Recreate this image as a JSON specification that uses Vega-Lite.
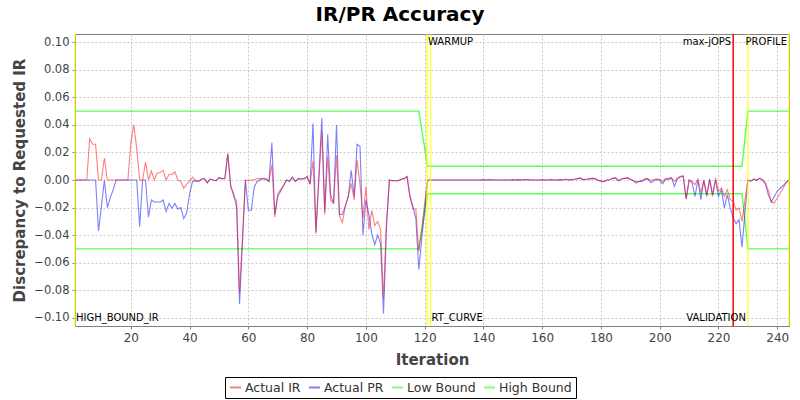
{
  "$schema": "https://vega.github.io/schema/vega-lite/v6.json",
  "width": 714,
  "height": 292,
  "autosize": "none",
  "padding": {"left": 75, "top": 34, "right": 11, "bottom": 74},
  "background": "white",
  "title": {"text": "IR/PR Accuracy", "fontSize": 20, "font": "DejaVu Sans", "fontWeight": "bold", "color": "black", "anchor": "middle", "dx": -32, "offset": 8},
  "config": {
    "view": {"stroke": "#808080", "strokeWidth": 1},
    "axis": {"labelFont": "DejaVu Sans", "labelFontSize": 12, "labelColor": "#444444", "titleFont": "DejaVu Sans", "titleFontSize": 15, "titleFontWeight": "bold", "titleColor": "#444444", "gridColor": "#c8c8c8", "gridDash": [2, 2], "gridWidth": 1, "domain": false, "tickColor": "#808080", "tickSize": 3, "labelOverlap": false}
  },
  "datasets": {
    "acc": [
      {"i":1,"Actual IR":0,"Actual PR":0},{"i":2,"Actual IR":0,"Actual PR":0},{"i":3,"Actual IR":0,"Actual PR":0},{"i":4,"Actual IR":0,"Actual PR":0},{"i":5,"Actual IR":0,"Actual PR":0},
      {"i":6,"Actual IR":0.030,"Actual PR":0},{"i":7,"Actual IR":0.026,"Actual PR":0},{"i":8,"Actual IR":0.026,"Actual PR":0},{"i":9,"Actual IR":0,"Actual PR":-0.037},{"i":10,"Actual IR":0,"Actual PR":-0.019},
      {"i":11,"Actual IR":0.016,"Actual PR":0},{"i":12,"Actual IR":0,"Actual PR":-0.020},{"i":13,"Actual IR":0,"Actual PR":-0.013},{"i":14,"Actual IR":0,"Actual PR":-0.007},{"i":15,"Actual IR":0,"Actual PR":0},
      {"i":16,"Actual IR":0,"Actual PR":0},{"i":17,"Actual IR":0,"Actual PR":0},{"i":18,"Actual IR":0,"Actual PR":0},{"i":19,"Actual IR":0,"Actual PR":0},{"i":20,"Actual IR":0.027,"Actual PR":0},
      {"i":21,"Actual IR":0.040,"Actual PR":0},{"i":22,"Actual IR":0.023,"Actual PR":0},{"i":23,"Actual IR":0,"Actual PR":-0.034},{"i":24,"Actual IR":0,"Actual PR":0},{"i":25,"Actual IR":0.013,"Actual PR":0},
      {"i":26,"Actual IR":0,"Actual PR":-0.027},{"i":27,"Actual IR":0.0065,"Actual PR":-0.0145},{"i":28,"Actual IR":0,"Actual PR":-0.016},{"i":29,"Actual IR":0.005,"Actual PR":-0.016},{"i":30,"Actual IR":0.0055,"Actual PR":-0.016},
      {"i":31,"Actual IR":0.007,"Actual PR":-0.0145},{"i":32,"Actual IR":0,"Actual PR":-0.023},{"i":33,"Actual IR":0.004,"Actual PR":-0.017},{"i":34,"Actual IR":0.004,"Actual PR":-0.0205},{"i":35,"Actual IR":0.006,"Actual PR":-0.017},
      {"i":36,"Actual IR":0,"Actual PR":-0.021},{"i":37,"Actual IR":-0.001,"Actual PR":-0.020},{"i":38,"Actual IR":-0.006,"Actual PR":-0.028},{"i":39,"Actual IR":-0.003,"Actual PR":-0.024},{"i":40,"Actual IR":-0.001,"Actual PR":-0.010},
      {"i":41,"Actual IR":0.002,"Actual PR":-0.001},{"i":42,"Actual IR":-0.0005,"Actual PR":-0.0005},{"i":43,"Actual IR":-0.001,"Actual PR":-0.001},{"i":44,"Actual IR":0.0005,"Actual PR":0.0005},{"i":45,"Actual IR":0.0012,"Actual PR":0.0012},
      {"i":46,"Actual IR":-0.002,"Actual PR":-0.002},{"i":47,"Actual IR":0.0007,"Actual PR":0.0007},{"i":48,"Actual IR":0,"Actual PR":0},{"i":49,"Actual IR":-0.0005,"Actual PR":-0.0005},{"i":50,"Actual IR":0.0017,"Actual PR":0.0017},
      {"i":51,"Actual IR":0.001,"Actual PR":0.001},{"i":52,"Actual IR":0.001,"Actual PR":0.0012},{"i":53,"Actual IR":0.019,"Actual PR":0.019},{"i":54,"Actual IR":-0.004,"Actual PR":-0.005},{"i":55,"Actual IR":-0.012,"Actual PR":-0.010},
      {"i":56,"Actual IR":-0.015,"Actual PR":-0.020},{"i":57,"Actual IR":-0.082,"Actual PR":-0.090},{"i":58,"Actual IR":-0.041,"Actual PR":-0.045},{"i":59,"Actual IR":0,"Actual PR":0},{"i":60,"Actual IR":-0.0005,"Actual PR":-0.022},
      {"i":61,"Actual IR":0,"Actual PR":-0.022},{"i":62,"Actual IR":0,"Actual PR":-0.005},{"i":63,"Actual IR":0.001,"Actual PR":-0.001},{"i":64,"Actual IR":0.001,"Actual PR":0},{"i":65,"Actual IR":0.001,"Actual PR":0.001},
      {"i":66,"Actual IR":0.001,"Actual PR":0.0005},{"i":67,"Actual IR":-0.001,"Actual PR":-0.001},{"i":68,"Actual IR":0.011,"Actual PR":0.027},{"i":69,"Actual IR":-0.027,"Actual PR":-0.025},{"i":70,"Actual IR":-0.010,"Actual PR":-0.012},
      {"i":71,"Actual IR":-0.007,"Actual PR":-0.008},{"i":72,"Actual IR":-0.004,"Actual PR":-0.004},{"i":73,"Actual IR":0,"Actual PR":0},{"i":74,"Actual IR":-0.001,"Actual PR":-0.001},{"i":75,"Actual IR":0.002,"Actual PR":0.002},
      {"i":76,"Actual IR":-0.001,"Actual PR":-0.001},{"i":77,"Actual IR":0.001,"Actual PR":0.001},{"i":78,"Actual IR":0.0007,"Actual PR":0.0007},{"i":79,"Actual IR":0.001,"Actual PR":0.001},{"i":80,"Actual IR":0.0025,"Actual PR":0.0025},
      {"i":81,"Actual IR":-0.003,"Actual PR":-0.003},{"i":82,"Actual IR":0.014,"Actual PR":0.041},{"i":83,"Actual IR":-0.039,"Actual PR":-0.038},{"i":84,"Actual IR":0,"Actual PR":0.003},{"i":85,"Actual IR":0.035,"Actual PR":0.045},
      {"i":86,"Actual IR":-0.025,"Actual PR":-0.023},{"i":87,"Actual IR":0.017,"Actual PR":0.033},{"i":88,"Actual IR":-0.0145,"Actual PR":-0.011},{"i":89,"Actual IR":-0.017,"Actual PR":-0.017},{"i":90,"Actual IR":0.018,"Actual PR":0.040},
      {"i":91,"Actual IR":-0.026,"Actual PR":-0.025},{"i":92,"Actual IR":-0.031,"Actual PR":-0.025},{"i":93,"Actual IR":-0.019,"Actual PR":-0.019},{"i":94,"Actual IR":-0.012,"Actual PR":-0.012},{"i":95,"Actual IR":-0.0025,"Actual PR":0.007},
      {"i":96,"Actual IR":-0.0145,"Actual PR":-0.012},{"i":97,"Actual IR":0.0145,"Actual PR":0.026},{"i":98,"Actual IR":-0.003,"Actual PR":0.0245},{"i":99,"Actual IR":-0.028,"Actual PR":-0.040},{"i":100,"Actual IR":-0.005,"Actual PR":-0.0145},
      {"i":101,"Actual IR":-0.036,"Actual PR":-0.025},{"i":102,"Actual IR":-0.022,"Actual PR":-0.039},{"i":103,"Actual IR":-0.033,"Actual PR":-0.047},{"i":104,"Actual IR":-0.030,"Actual PR":-0.040},{"i":105,"Actual IR":-0.036,"Actual PR":-0.046},
      {"i":106,"Actual IR":-0.086,"Actual PR":-0.097},{"i":107,"Actual IR":-0.030,"Actual PR":-0.035},{"i":108,"Actual IR":0,"Actual PR":0},{"i":109,"Actual IR":-0.0005,"Actual PR":-0.0005},{"i":110,"Actual IR":-0.0005,"Actual PR":-0.0005},
      {"i":111,"Actual IR":-0.0005,"Actual PR":-0.0005},{"i":112,"Actual IR":0.0005,"Actual PR":0.0005},{"i":113,"Actual IR":0.001,"Actual PR":0.001},{"i":114,"Actual IR":0.0025,"Actual PR":0.0025},{"i":115,"Actual IR":-0.012,"Actual PR":-0.012},
      {"i":116,"Actual IR":-0.021,"Actual PR":-0.019},{"i":117,"Actual IR":-0.021,"Actual PR":-0.028},{"i":118,"Actual IR":-0.052,"Actual PR":-0.065},{"i":119,"Actual IR":-0.035,"Actual PR":-0.043},{"i":120,"Actual IR":-0.017,"Actual PR":-0.022},
      {"i":121,"Actual IR":0,"Actual PR":0},{"i":122,"Actual IR":0,"Actual PR":0},{"i":123,"Actual IR":0,"Actual PR":0},{"i":124,"Actual IR":0,"Actual PR":0},{"i":125,"Actual IR":0,"Actual PR":0},
      {"i":126,"Actual IR":0,"Actual PR":0},{"i":127,"Actual IR":0,"Actual PR":0},{"i":128,"Actual IR":0,"Actual PR":0},{"i":129,"Actual IR":0,"Actual PR":0},{"i":130,"Actual IR":0,"Actual PR":0},
      {"i":131,"Actual IR":0,"Actual PR":0},{"i":132,"Actual IR":0,"Actual PR":0},{"i":133,"Actual IR":0,"Actual PR":0},{"i":134,"Actual IR":0,"Actual PR":0},{"i":135,"Actual IR":0,"Actual PR":0},
      {"i":136,"Actual IR":0,"Actual PR":0},{"i":137,"Actual IR":0,"Actual PR":0},{"i":138,"Actual IR":0,"Actual PR":0},{"i":139,"Actual IR":0,"Actual PR":0},{"i":140,"Actual IR":0,"Actual PR":0.0003},
      {"i":141,"Actual IR":0,"Actual PR":0},{"i":142,"Actual IR":0,"Actual PR":0.0003},{"i":143,"Actual IR":0,"Actual PR":0.0003},{"i":144,"Actual IR":0,"Actual PR":0},{"i":145,"Actual IR":0,"Actual PR":0},
      {"i":146,"Actual IR":0,"Actual PR":0},{"i":147,"Actual IR":0,"Actual PR":0},{"i":148,"Actual IR":0,"Actual PR":0},{"i":149,"Actual IR":0,"Actual PR":0},{"i":150,"Actual IR":0.0002,"Actual PR":0.0003},
      {"i":151,"Actual IR":0,"Actual PR":0},{"i":152,"Actual IR":0.0003,"Actual PR":0.0003},{"i":153,"Actual IR":0,"Actual PR":0},{"i":154,"Actual IR":0.0002,"Actual PR":0.0003},{"i":155,"Actual IR":0.0003,"Actual PR":0.0003},
      {"i":156,"Actual IR":0,"Actual PR":0},{"i":157,"Actual IR":0,"Actual PR":0},{"i":158,"Actual IR":0,"Actual PR":0},{"i":159,"Actual IR":0,"Actual PR":0},{"i":160,"Actual IR":0.0002,"Actual PR":0.0002},
      {"i":161,"Actual IR":0,"Actual PR":0},{"i":162,"Actual IR":0,"Actual PR":0},{"i":163,"Actual IR":0.0004,"Actual PR":0.0003},{"i":164,"Actual IR":0,"Actual PR":0},{"i":165,"Actual IR":0,"Actual PR":0},
      {"i":166,"Actual IR":0.0003,"Actual PR":0.0003},{"i":167,"Actual IR":0,"Actual PR":0},{"i":168,"Actual IR":0.0005,"Actual PR":0.0005},{"i":169,"Actual IR":0,"Actual PR":0},{"i":170,"Actual IR":0.0003,"Actual PR":0.0003},
      {"i":171,"Actual IR":0.0005,"Actual PR":0.0005},{"i":172,"Actual IR":0.001,"Actual PR":0.001},{"i":173,"Actual IR":0.0015,"Actual PR":0.0012},{"i":174,"Actual IR":0.0003,"Actual PR":0.0003},{"i":175,"Actual IR":0.0005,"Actual PR":0.0005},
      {"i":176,"Actual IR":0.0008,"Actual PR":0.0008},{"i":177,"Actual IR":0.0012,"Actual PR":0.0012},{"i":178,"Actual IR":0.001,"Actual PR":0.001},{"i":179,"Actual IR":-0.0002,"Actual PR":-0.0002},{"i":180,"Actual IR":-0.0008,"Actual PR":-0.0008},
      {"i":181,"Actual IR":-0.0012,"Actual PR":-0.0012},{"i":182,"Actual IR":0,"Actual PR":0},{"i":183,"Actual IR":0.0002,"Actual PR":0.0002},{"i":184,"Actual IR":0.0012,"Actual PR":0.0012},{"i":185,"Actual IR":0.0015,"Actual PR":0.0015},
      {"i":186,"Actual IR":-0.0005,"Actual PR":-0.0005},{"i":187,"Actual IR":0.0008,"Actual PR":0.0008},{"i":188,"Actual IR":0.0012,"Actual PR":0.0012},{"i":189,"Actual IR":0.0015,"Actual PR":0.0015},{"i":190,"Actual IR":0.0005,"Actual PR":0.0005},
      {"i":191,"Actual IR":-0.0005,"Actual PR":-0.0005},{"i":192,"Actual IR":-0.0022,"Actual PR":-0.0015},{"i":193,"Actual IR":-0.001,"Actual PR":-0.001},{"i":194,"Actual IR":-0.0002,"Actual PR":-0.001},{"i":195,"Actual IR":0.0005,"Actual PR":0.0008},
      {"i":196,"Actual IR":0.0003,"Actual PR":0.001},{"i":197,"Actual IR":-0.0002,"Actual PR":-0.002},{"i":198,"Actual IR":0.0003,"Actual PR":-0.0005},{"i":199,"Actual IR":0.0008,"Actual PR":0.0003},{"i":200,"Actual IR":0.0003,"Actual PR":-0.0002},
      {"i":201,"Actual IR":-0.001,"Actual PR":-0.0027},{"i":202,"Actual IR":0.0008,"Actual PR":0.0008},{"i":203,"Actual IR":0.0003,"Actual PR":0.0012},{"i":204,"Actual IR":0.0015,"Actual PR":0.0017},{"i":205,"Actual IR":-0.001,"Actual PR":-0.0046},
      {"i":206,"Actual IR":0.0015,"Actual PR":0.0008},{"i":207,"Actual IR":0.0027,"Actual PR":0.0022},{"i":208,"Actual IR":0.003,"Actual PR":0.0027},{"i":209,"Actual IR":-0.0138,"Actual PR":-0.0138},{"i":210,"Actual IR":0,"Actual PR":0},
      {"i":211,"Actual IR":-0.001,"Actual PR":-0.002},{"i":212,"Actual IR":-0.0034,"Actual PR":-0.012},{"i":213,"Actual IR":0.0008,"Actual PR":0.0002},{"i":214,"Actual IR":-0.0094,"Actual PR":-0.0143},{"i":215,"Actual IR":0,"Actual PR":-0.0003},
      {"i":216,"Actual IR":-0.0106,"Actual PR":-0.0119},{"i":217,"Actual IR":0,"Actual PR":0.0008},{"i":218,"Actual IR":-0.0119,"Actual PR":-0.0106},{"i":219,"Actual IR":0.0015,"Actual PR":0},{"i":220,"Actual IR":-0.0082,"Actual PR":-0.0119},
      {"i":221,"Actual IR":-0.0058,"Actual PR":-0.007},{"i":222,"Actual IR":-0.0119,"Actual PR":-0.0203},{"i":223,"Actual IR":-0.007,"Actual PR":-0.0106},{"i":224,"Actual IR":-0.0143,"Actual PR":-0.0203},{"i":225,"Actual IR":-0.0155,"Actual PR":-0.0276},
      {"i":226,"Actual IR":-0.0218,"Actual PR":-0.0317},{"i":227,"Actual IR":-0.0203,"Actual PR":-0.0288},{"i":228,"Actual IR":-0.030,"Actual PR":-0.0487},{"i":229,"Actual IR":-0.015,"Actual PR":-0.024},{"i":230,"Actual IR":0,"Actual PR":0},
      {"i":231,"Actual IR":-0.0005,"Actual PR":-0.001},{"i":232,"Actual IR":0.0007,"Actual PR":0.0007},{"i":233,"Actual IR":-0.0002,"Actual PR":-0.0002},{"i":234,"Actual IR":0.0014,"Actual PR":0.0012},{"i":235,"Actual IR":0.0002,"Actual PR":-0.0002},
      {"i":236,"Actual IR":-0.002,"Actual PR":-0.003},{"i":237,"Actual IR":-0.008,"Actual PR":-0.011},{"i":238,"Actual IR":-0.016,"Actual PR":-0.016},{"i":239,"Actual IR":-0.0167,"Actual PR":-0.012},{"i":240,"Actual IR":-0.013,"Actual PR":-0.008},
      {"i":241,"Actual IR":-0.0094,"Actual PR":-0.006},{"i":242,"Actual IR":-0.006,"Actual PR":-0.004},{"i":243,"Actual IR":-0.002,"Actual PR":-0.0017},{"i":244,"Actual IR":0,"Actual PR":0}
    ],
    "bounds": [
      {"i":1,"Low Bound":-0.05,"High Bound":0.05},
      {"i":118,"Low Bound":-0.05,"High Bound":0.05},
      {"i":121,"Low Bound":-0.01,"High Bound":0.01},
      {"i":228,"Low Bound":-0.01,"High Bound":0.01},
      {"i":230,"Low Bound":-0.05,"High Bound":0.05},
      {"i":244,"Low Bound":-0.05,"High Bound":0.05}
    ],
    "markers": [
      {"i":1,"name":"HIGH_BOUND_IR","kind":"phase","pos":"bottom","side":"left"},
      {"i":120.8,"name":"WARMUP","kind":"phase","pos":"top","side":"left"},
      {"i":122,"name":"RT_CURVE","kind":"phase","pos":"bottom","side":"left"},
      {"i":225,"name":"max-jOPS","kind":"max","pos":"top","side":"right"},
      {"i":230,"name":"VALIDATION","kind":"phase","pos":"bottom","side":"right"},
      {"i":244,"name":"PROFILE","kind":"phase","pos":"top","side":"right"}
    ]
  },
  "encoding": {
    "x": {"field": "i", "type": "quantitative", "title": "Iteration",
      "scale": {"domain": [1, 244], "nice": false, "zero": false},
      "axis": {"values": [20,40,60,80,100,120,140,160,180,200,220,240], "titlePadding": 9, "labelPadding": 3, "labelOverlap": false}}
  },
  "layer": [
    {
      "data": {"name": "bounds"},
      "transform": [{"fold": ["Low Bound", "High Bound"], "as": ["series", "value"]}],
      "mark": {"type": "line", "strokeWidth": 1.4, "opacity": 0.65, "clip": true},
      "encoding": {
        "y": {"field": "value", "type": "quantitative", "title": "Discrepancy to Requested IR",
          "scale": {"domain": [-0.106, 0.106], "nice": false, "zero": false},
          "axis": {"tickCount": 11, "format": ".2f", "titlePadding": 6, "labelPadding": 3, "labelOverlap": false, "labelFontSize": 11.5}},
        "color": {"field": "series", "type": "nominal",
          "scale": {"domain": ["Actual IR", "Actual PR", "Low Bound", "High Bound"], "range": ["#ff0000", "#0000ff", "#00ff00", "#00ff00"]},
          "legend": {"title": null, "orient": "none", "legendX": 150, "legendY": 343, "direction": "horizontal", "strokeColor": "black", "fillColor": "white", "padding": 4, "symbolType": "stroke", "symbolStrokeWidth": 2, "symbolSize": 120, "symbolOpacity": 0.5, "labelFont": "DejaVu Sans", "labelFontSize": 12.5, "labelColor": "#333333", "columnPadding": 4, "symbolOffset": 0, "labelOffset": 3}},
        "detail": {"field": "series"}
      }
    },
    {
      "data": {"name": "acc"},
      "transform": [{"fold": ["Actual PR"], "as": ["series", "value"]}],
      "mark": {"type": "line", "strokeWidth": 1.1, "opacity": 0.5, "clip": true},
      "encoding": {
        "y": {"field": "value", "type": "quantitative"},
        "color": {"field": "series", "type": "nominal"}
      }
    },
    {
      "data": {"name": "acc"},
      "transform": [{"fold": ["Actual IR"], "as": ["series", "value"]}],
      "mark": {"type": "line", "strokeWidth": 1.1, "opacity": 0.5, "clip": true},
      "encoding": {
        "y": {"field": "value", "type": "quantitative"},
        "color": {"field": "series", "type": "nominal"}
      }
    },
    {
      "data": {"name": "markers"},
      "transform": [{"filter": "datum.kind === 'phase'"}],
      "mark": {"type": "rule", "color": "#ffff00", "opacity": 0.55, "strokeWidth": 2},
      "encoding": {}
    },
    {
      "data": {"name": "markers"},
      "transform": [{"filter": "datum.kind === 'max'"}],
      "mark": {"type": "rule", "color": "#ff0000", "strokeWidth": 1.5},
      "encoding": {}
    },
    {
      "data": {"name": "markers"},
      "transform": [{"filter": "datum.pos === 'top' && datum.side === 'left'"}],
      "mark": {"type": "text", "align": "left", "baseline": "top", "dx": 1, "dy": 3, "font": "DejaVu Sans", "fontSize": 10, "color": "black"},
      "encoding": {"y": {"datum": 0.106}, "text": {"field": "name"}}
    },
    {
      "data": {"name": "markers"},
      "transform": [{"filter": "datum.pos === 'top' && datum.side === 'right'"}],
      "mark": {"type": "text", "align": "right", "baseline": "top", "dx": -2, "dy": 3, "font": "DejaVu Sans", "fontSize": 10, "color": "black"},
      "encoding": {"y": {"datum": 0.106}, "text": {"field": "name"}}
    },
    {
      "data": {"name": "markers"},
      "transform": [{"filter": "datum.pos === 'bottom' && datum.side === 'left'"}],
      "mark": {"type": "text", "align": "left", "baseline": "bottom", "dx": 1, "dy": -3, "font": "DejaVu Sans", "fontSize": 10, "color": "black"},
      "encoding": {"y": {"datum": -0.106}, "text": {"field": "name"}}
    },
    {
      "data": {"name": "markers"},
      "transform": [{"filter": "datum.pos === 'bottom' && datum.side === 'right'"}],
      "mark": {"type": "text", "align": "right", "baseline": "bottom", "dx": -2, "dy": -3, "font": "DejaVu Sans", "fontSize": 10, "color": "black"},
      "encoding": {"y": {"datum": -0.106}, "text": {"field": "name"}}
    }
  ]
}
